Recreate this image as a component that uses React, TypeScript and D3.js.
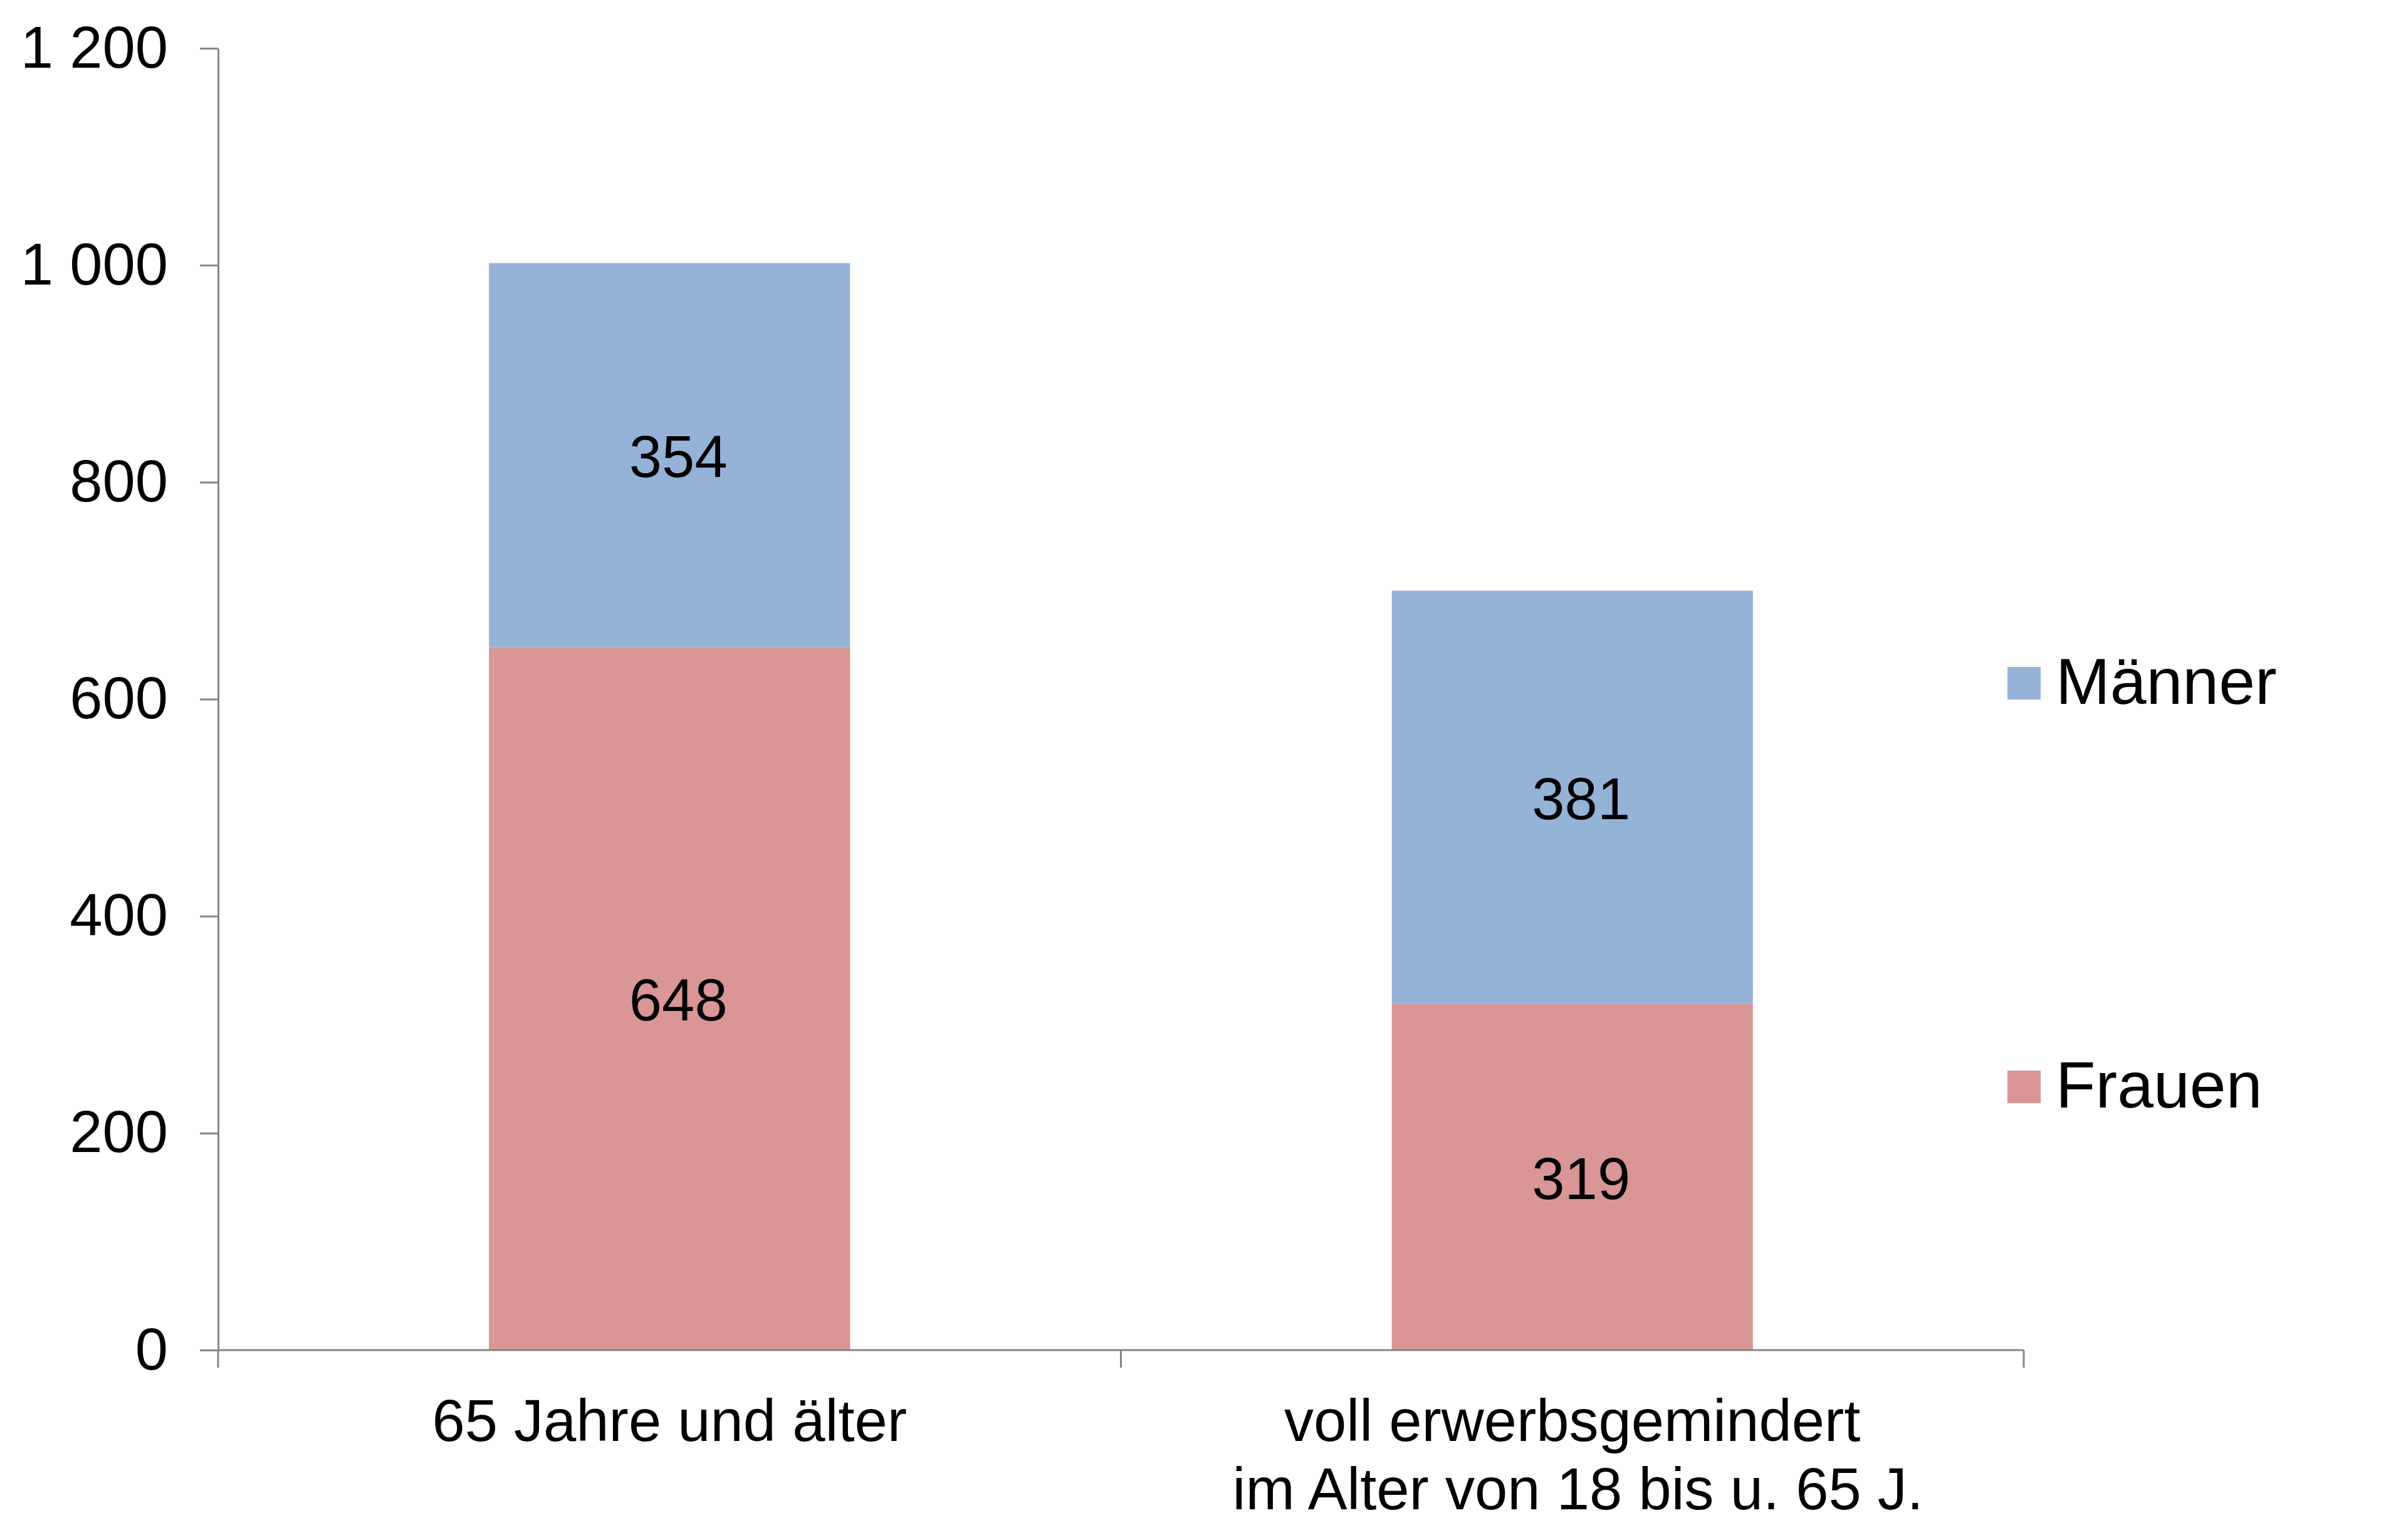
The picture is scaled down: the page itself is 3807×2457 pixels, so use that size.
import { useEffect, useRef } from "react";
import * as d3 from "d3";

const WIDTH = 3807;
const HEIGHT = 2457;

const categories = ["65 Jahre und älter", "voll erwerbsgemindert im Alter von 18 bis u. 65 J."];
const categoryLines = [["65 Jahre und älter"], ["voll erwerbsgemindert", "im Alter von 18 bis u. 65 J."]];
const seriesNames = ["Frauen", "Männer"];
const frauen = [648, 319];
const maenner = [354, 381];
const yTicks = [0, 200, 400, 600, 800, 1000, 1200];

const COLORS = ["#D99694", "#95B3D7"];
const AXIS_COLOR = "#868686";
const FONT = "'Liberation Sans', Arial, sans-serif";

const PLOT = { left: 348, right: 3229, top: 77, bottom: 2154 };

const fmt = d3.formatLocale({ decimal: ",", thousands: " ", grouping: [3], currency: ["", "€"] }).format(",d");

export default function App() {
  const yAxisRef = useRef<SVGGElement | null>(null);

  const yScale = d3.scaleLinear().domain([0, 1200]).range([PLOT.bottom, PLOT.top]);
  const xScale = d3
    .scaleBand<string>()
    .domain(categories)
    .range([PLOT.left, PLOT.right])
    .paddingInner(0.6)
    .paddingOuter(0.3);

  const rows = categories.map((c, i) => ({ cat: c, Frauen: frauen[i], Männer: maenner[i] }));
  const stacked = d3.stack<any>().keys(seriesNames)(rows);
  const colorScale = d3.scaleOrdinal<string>().domain(seriesNames).range(COLORS);

  // boundaries between categories for the x axis ticks
  const step = xScale.step();
  const boundaries = d3.range(categories.length + 1).map((i) => PLOT.left + i * step);

  useEffect(() => {
    const g = d3.select(yAxisRef.current);
    g.selectAll("*").remove();
    g.append("g")
      .attr("transform", `translate(${PLOT.left},0)`)
      .call(
        d3
          .axisLeft(yScale)
          .tickValues(yTicks)
          .tickSize(29)
          .tickSizeOuter(0)
          .tickPadding(51)
          .tickFormat((d) => fmt(d as number))
      )
      .call((sel) => {
        sel.select(".domain").attr("stroke", AXIS_COLOR).attr("stroke-width", 3);
        sel.selectAll(".tick line").attr("stroke", AXIS_COLOR).attr("stroke-width", 3);
        sel
          .selectAll(".tick text")
          .attr("fill", "#000")
          .attr("font-size", 94)
          .attr("font-family", FONT)
          .attr("dy", "0.32em");
      });
  }, []);

  return (
    <svg
      width={WIDTH}
      height={HEIGHT}
      style={{ position: "absolute", left: 0, top: 0, background: "#fff" }}
    >
      <rect width={WIDTH} height={HEIGHT} fill="#fff" />

      {stacked.map((layer) =>
        layer.map((d, j) => {
          const x = xScale(categories[j]) ?? 0;
          const y0 = yScale(d[0]);
          const y1 = yScale(d[1]);
          const value = d[1] - d[0];
          return (
            <g key={`${layer.key}_${j}`}>
              <rect
                x={x}
                width={xScale.bandwidth()}
                y={y1}
                height={y0 - y1}
                fill={colorScale(layer.key)}
              />
              <text
                x={x + xScale.bandwidth() / 2 + 14}
                y={(y0 + y1) / 2 + 94 * 0.37}
                textAnchor="middle"
                fontSize={94}
                fontFamily={FONT}
                fill="#000"
              >
                {value}
              </text>
            </g>
          );
        })
      )}

      {/* x axis */}
      <line
        x1={PLOT.left}
        x2={PLOT.right}
        y1={PLOT.bottom}
        y2={PLOT.bottom}
        stroke={AXIS_COLOR}
        strokeWidth={3}
      />
      {boundaries.map((bx, i) => (
        <line key={i} x1={bx} x2={bx} y1={PLOT.bottom} y2={PLOT.bottom + 28} stroke={AXIS_COLOR} strokeWidth={3} />
      ))}
      {categoryLines.map((lines, i) => (
        <text
          key={i}
          x={(xScale(categories[i]) ?? 0) + xScale.bandwidth() / 2}
          y={PLOT.bottom + 145}
          textAnchor="middle"
          fontSize={94}
          fontFamily={FONT}
          fill="#000"
        >
          {lines.map((l, k) => (
            <tspan
              key={k}
              x={(xScale(categories[i]) ?? 0) + xScale.bandwidth() / 2 + (k === 0 ? 0 : 9)}
              dy={k === 0 ? 0 : 109}
            >
              {l}
            </tspan>
          ))}
        </text>
      ))}

      <g ref={yAxisRef} />

      {/* legend, Männer above Frauen */}
      {[...seriesNames].reverse().map((name, i) => (
        <g key={name} transform={`translate(3203,${1064 + i * 644})`}>
          <rect width={53} height={52} fill={colorScale(name)} />
          <text x={77} y={59} fontSize={104} fontFamily={FONT} fill="#000">
            {name}
          </text>
        </g>
      ))}
    </svg>
  );
}
